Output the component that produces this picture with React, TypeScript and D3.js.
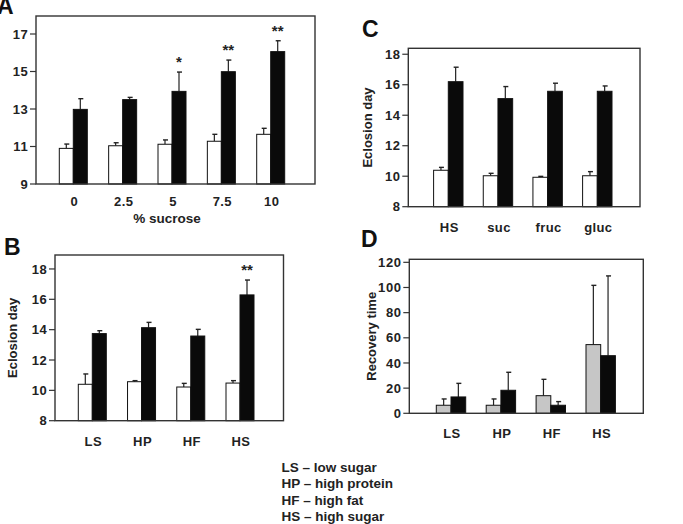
import React from "react";
import * as d3 from "d3";

// Panel A: eclosion day vs dietary sucrose
const sucroseLevels = ["0", "2.5", "5", "7.5", "10"];
const sucroseControl = [10.9, 11.04, 11.12, 11.28, 11.65];
const sucroseControlErr = [0.23, 0.16, 0.23, 0.37, 0.32];
const sucroseTreated = [12.98, 13.5, 13.94, 14.99, 16.06];
const sucroseTreatedErr = [0.57, 0.12, 1.03, 0.62, 0.58];
const sucroseSig = ["", "", "*", "**", "**"];
const sucroseTicks = [9, 11, 13, 15, 17];

// Panel B: eclosion day by diet
const dietLabels = ["LS", "HP", "HF", "HS"];
const dietControl = [10.4, 10.57, 10.22, 10.48];
const dietControlErr = [0.68, 0.07, 0.24, 0.16];
const dietTreated = [13.74, 14.13, 13.58, 16.29];
const dietTreatedErr = [0.19, 0.35, 0.44, 0.98];
const dietSig = ["", "", "", "**"];
const eclosionTicks = [8, 10, 12, 14, 16, 18];

// Panel C: eclosion day by sugar type
const sugarLabels = ["HS", "suc", "fruc", "gluc"];
const sugarControl = [10.39, 10.03, 9.93, 10.03];
const sugarControlErr = [0.19, 0.16, 0.06, 0.27];
const sugarTreated = [16.2, 15.09, 15.57, 15.57];
const sugarTreatedErr = [0.95, 0.79, 0.53, 0.35];

// Panel D: recovery time by diet
const recoveryControl = [6.4, 6.4, 14.0, 54.6];
const recoveryControlErr = [5.0, 5.0, 13.0, 47.1];
const recoveryTreated = [13.0, 18.3, 6.4, 45.8];
const recoveryTreatedErr = [10.8, 14.3, 2.9, 63.4];
const recoveryTicks = [0, 20, 40, 60, 80, 100, 120];

// Key for diet abbreviations
const legendLines = [
  "LS \u2013 low sugar",
  "HP \u2013 high protein",
  "HF \u2013 high fat",
  "HS \u2013 high sugar",
];

const FONT = "'Liberation Sans', Arial, Helvetica, sans-serif";

type Series = { values: number[]; errs: number[]; fill: string };

type PanelProps = {
  letter: string;
  letterX: number;
  letterY: number;
  left: number;
  right: number;
  top: number;
  bottom: number;
  yDomain: [number, number];
  ticks: number[];
  categories: string[];
  firstCenter: number;
  lastCenter: number;
  barWidth: number;
  series: Series[];
  sig?: string[];
  xLabelY: number;
  xTitle?: string;
  xTitleY?: number;
  yTitle?: string;
  yTitleX?: number;
};

function Panel(p: PanelProps) {
  const y = d3.scaleLinear().domain(p.yDomain).range([p.bottom, p.top]);
  const x = d3
    .scalePoint<string>()
    .domain(p.categories)
    .range([p.firstCenter, p.lastCenter]);
  const n = p.series.length;
  return (
    <g fontFamily={FONT} fontWeight="bold">
      <text x={p.letterX} y={p.letterY} fontSize={23} fill="#111">
        {p.letter}
      </text>
      {p.yTitle && (
        <text
          transform={`translate(${p.yTitleX},${(p.top + p.bottom) / 2}) rotate(-90)`}
          textAnchor="middle"
          fontSize={13}
          fill="#222"
        >
          {p.yTitle}
        </text>
      )}
      {p.ticks.map((t) => (
        <g key={t}>
          <line
            x1={p.left - 6}
            x2={p.left}
            y1={y(t)}
            y2={y(t)}
            stroke="#333"
            strokeWidth={1.2}
          />
          <text
            x={p.left - 7.5}
            y={y(t)}
            dy="0.36em"
            textAnchor="end"
            fontSize={13}
            letterSpacing={0.7}
            fill="#222"
          >
            {t}
          </text>
        </g>
      ))}
      {p.categories.map((c, i) => {
        const cx = x(c) as number;
        return (
          <g key={c}>
            {p.series.map((s, k) => {
              const bx = cx - (n * p.barWidth) / 2 + k * p.barWidth;
              const mid = bx + p.barWidth / 2;
              const top = y(s.values[i]);
              const errTop = y(s.values[i] + s.errs[i]);
              return (
                <g key={k}>
                  <line
                    x1={mid}
                    x2={mid}
                    y1={top}
                    y2={errTop}
                    stroke="#222"
                    strokeWidth={1.2}
                  />
                  <line
                    x1={mid - 2}
                    x2={mid + 3}
                    y1={errTop}
                    y2={errTop}
                    stroke="#222"
                    strokeWidth={1.4}
                  />
                  <rect
                    x={bx}
                    y={top}
                    width={p.barWidth}
                    height={p.bottom - top}
                    fill={s.fill}
                    stroke="#111"
                    strokeWidth={1}
                  />
                </g>
              );
            })}
            {p.sig && p.sig[i] && (
              <text
                x={cx + p.barWidth / 2}
                y={
                  y(
                    p.series[n - 1].values[i] + p.series[n - 1].errs[i]
                  ) - 5
                }
                textAnchor="middle"
                fontSize={15}
                fill="#222"
              >
                {p.sig[i]}
              </text>
            )}
            <text
              x={cx + 1}
              y={p.xLabelY}
              textAnchor="middle"
              fontSize={13}
              letterSpacing={0.4}
              fill="#222"
            >
              {c}
            </text>
          </g>
        );
      })}
      <rect
        x={p.left}
        y={p.top}
        width={p.right - p.left}
        height={p.bottom - p.top}
        fill="none"
        stroke="#333"
        strokeWidth={1.4}
      />
      {p.xTitle && (
        <text
          x={(p.firstCenter + p.lastCenter) / 2 - 5}
          y={p.xTitleY}
          textAnchor="middle"
          fontSize={13.5}
          fill="#222"
        >
          {p.xTitle}
        </text>
      )}
    </g>
  );
}

export default function App() {
  const white = "#ffffff";
  const black = "#0a0a0a";
  const grey = "#c6c6c6";
  return (
    <svg
      width={683}
      height={524}
      style={{ position: "absolute", left: 0, top: 0, background: "#fff" }}
    >
      <rect width={683} height={524} fill="#fff" />
      <Panel
        letter="A"
        letterX={-3}
        letterY={14}
        left={36}
        right={315}
        top={16}
        bottom={184}
        yDomain={[9, 17.96]}
        ticks={sucroseTicks}
        categories={sucroseLevels}
        firstCenter={73.3}
        lastCenter={270.7}
        barWidth={14}
        series={[
          { values: sucroseControl, errs: sucroseControlErr, fill: white },
          { values: sucroseTreated, errs: sucroseTreatedErr, fill: black },
        ]}
        sig={sucroseSig}
        xLabelY={205.5}
        xTitle="% sucrose"
        xTitleY={222.5}
      />
      <Panel
        letter="B"
        letterX={4}
        letterY={255}
        left={55}
        right={283.5}
        top={255}
        bottom={420.7}
        yDomain={[8, 18.92]}
        ticks={eclosionTicks}
        categories={dietLabels}
        firstCenter={92.3}
        lastCenter={240}
        barWidth={14}
        series={[
          { values: dietControl, errs: dietControlErr, fill: white },
          { values: dietTreated, errs: dietTreatedErr, fill: black },
        ]}
        sig={dietSig}
        xLabelY={446}
        yTitle="Eclosion day"
        yTitleX={17}
      />
      <Panel
        letter="C"
        letterX={362}
        letterY={37}
        left={408.3}
        right={640}
        top={48.3}
        bottom={206.7}
        yDomain={[8, 18.39]}
        ticks={eclosionTicks}
        categories={sugarLabels}
        firstCenter={448.3}
        lastCenter={597.3}
        barWidth={14.7}
        series={[
          { values: sugarControl, errs: sugarControlErr, fill: white },
          { values: sugarTreated, errs: sugarTreatedErr, fill: black },
        ]}
        xLabelY={231.5}
        yTitle="Eclosion day"
        yTitleX={372}
      />
      <Panel
        letter="D"
        letterX={361}
        letterY={247}
        left={409.3}
        right={643.3}
        top={259.3}
        bottom={413.3}
        yDomain={[0, 122.4]}
        ticks={recoveryTicks}
        categories={dietLabels}
        firstCenter={451}
        lastCenter={600.7}
        barWidth={14.7}
        series={[
          { values: recoveryControl, errs: recoveryControlErr, fill: grey },
          { values: recoveryTreated, errs: recoveryTreatedErr, fill: black },
        ]}
        xLabelY={438}
        yTitle="Recovery time"
        yTitleX={376}
      />
      <g fontFamily={FONT} fontWeight="bold" fontSize={13.5} fill="#222">
        {legendLines.map((t, i) => (
          <text key={t} x={281.5} y={471.7 + i * 16.4}>
            {t}
          </text>
        ))}
      </g>
    </svg>
  );
}
